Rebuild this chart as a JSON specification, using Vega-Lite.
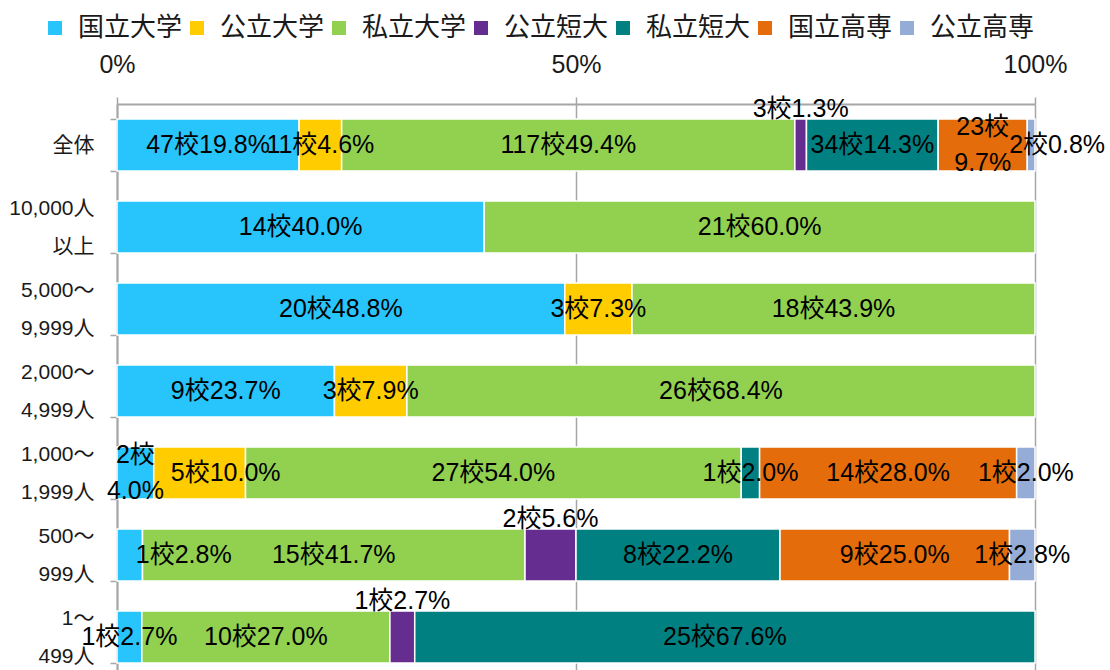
{
  "$schema": "https://vega.github.io/schema/vega-lite/v6.json",
  "autosize": {"type": "none"},
  "padding": {"left": 117, "top": 104, "right": 75, "bottom": 0},
  "width": 918,
  "height": 574,
  "background": "white",
  "config": {
    "font": "Liberation Sans, Noto Sans CJK JP",
    "view": {"stroke": null}
  },
  "data": {
    "values": [
      {"size": "全体", "type": "国立大学", "n": 47, "pct": 19.8},
      {"size": "全体", "type": "公立大学", "n": 11, "pct": 4.6},
      {"size": "全体", "type": "私立大学", "n": 117, "pct": 49.4},
      {"size": "全体", "type": "公立短大", "n": 3, "pct": 1.3},
      {"size": "全体", "type": "私立短大", "n": 34, "pct": 14.3},
      {"size": "全体", "type": "国立高専", "n": 23, "pct": 9.7},
      {"size": "全体", "type": "公立高専", "n": 2, "pct": 0.8},
      {"size": "10,000人|以上", "type": "国立大学", "n": 14, "pct": 40.0},
      {"size": "10,000人|以上", "type": "私立大学", "n": 21, "pct": 60.0},
      {"size": "5,000～|9,999人", "type": "国立大学", "n": 20, "pct": 48.8},
      {"size": "5,000～|9,999人", "type": "公立大学", "n": 3, "pct": 7.3},
      {"size": "5,000～|9,999人", "type": "私立大学", "n": 18, "pct": 43.9},
      {"size": "2,000～|4,999人", "type": "国立大学", "n": 9, "pct": 23.7},
      {"size": "2,000～|4,999人", "type": "公立大学", "n": 3, "pct": 7.9},
      {"size": "2,000～|4,999人", "type": "私立大学", "n": 26, "pct": 68.4},
      {"size": "1,000～|1,999人", "type": "国立大学", "n": 2, "pct": 4.0},
      {"size": "1,000～|1,999人", "type": "公立大学", "n": 5, "pct": 10.0},
      {"size": "1,000～|1,999人", "type": "私立大学", "n": 27, "pct": 54.0},
      {"size": "1,000～|1,999人", "type": "私立短大", "n": 1, "pct": 2.0},
      {"size": "1,000～|1,999人", "type": "国立高専", "n": 14, "pct": 28.0},
      {"size": "1,000～|1,999人", "type": "公立高専", "n": 1, "pct": 2.0},
      {"size": "500～|999人", "type": "国立大学", "n": 1, "pct": 2.8},
      {"size": "500～|999人", "type": "私立大学", "n": 15, "pct": 41.7},
      {"size": "500～|999人", "type": "公立短大", "n": 2, "pct": 5.6},
      {"size": "500～|999人", "type": "私立短大", "n": 8, "pct": 22.2},
      {"size": "500～|999人", "type": "国立高専", "n": 9, "pct": 25.0},
      {"size": "500～|999人", "type": "公立高専", "n": 1, "pct": 2.8},
      {"size": "1～|499人", "type": "国立大学", "n": 1, "pct": 2.7},
      {"size": "1～|499人", "type": "私立大学", "n": 10, "pct": 27.0},
      {"size": "1～|499人", "type": "公立短大", "n": 1, "pct": 2.7},
      {"size": "1～|499人", "type": "私立短大", "n": 25, "pct": 67.6}
    ]
  },
  "transform": [
    {"calculate": "indexof(['国立大学','公立大学','私立大学','公立短大','私立短大','国立高専','公立高専'], datum.type)", "as": "ord"},
    {"stack": "n", "groupby": ["size"], "sort": [{"field": "ord", "order": "ascending"}], "offset": "normalize", "as": ["x0", "x1"]},
    {"calculate": "(datum.x0 + datum.x1) / 2", "as": "mid"},
    {"calculate": "datum.n + '校' + format(datum.pct, '.1f') + '%'", "as": "label"},
    {"calculate": "datum.n + '校|' + format(datum.pct, '.1f') + '%'", "as": "label2"},
    {"calculate": "datum.size + '/' + datum.type", "as": "key"}
  ],
  "encoding": {
    "y": {
      "field": "size",
      "type": "nominal",
      "sort": ["全体", "10,000人|以上", "5,000～|9,999人", "2,000～|4,999人", "1,000～|1,999人", "500～|999人", "1～|499人"],
      "scale": {"paddingInner": 0.366, "paddingOuter": 0.183},
      "axis": {
        "title": null,
        "orient": "left",
        "labelExpr": "split(datum.label, '|')",
        "labelFontSize": 21,
        "labelLineHeight": 38,
        "labelOffset": {"condition": {"test": "datum.value === '全体'", "value": 0}, "value": -19},
        "labelColor": "#1a1a1a",
        "labelPadding": 16,
        "tickBand": "extent",
        "tickSize": 7,
        "tickColor": "#A6A6A6",
        "tickWidth": 1.5,
        "domainColor": "#A6A6A6",
        "domainWidth": 2,
        "grid": false
      }
    }
  },
  "layer": [
    {
      "mark": {"type": "bar", "stroke": "white", "strokeWidth": 1.5},
      "encoding": {
        "x": {
          "field": "x0",
          "type": "quantitative",
          "scale": {"domain": [0, 1], "nice": false},
          "axis": {
            "title": null,
            "orient": "top",
            "values": [0, 0.5, 1],
            "format": ".0%",
            "labelFontSize": 25,
            "labelColor": "#1a1a1a",
            "labelPadding": 20,
            "labelFlush": false,
            "grid": true,
            "gridColor": "#A6A6A6",
            "gridWidth": 1.5,
            "tickSize": 7,
            "tickColor": "#A6A6A6",
            "tickWidth": 1.5,
            "domainColor": "#A6A6A6",
            "domainWidth": 2
          }
        },
        "x2": {"field": "x1"},
        "color": {
          "field": "type",
          "type": "nominal",
          "scale": {
            "domain": ["国立大学", "公立大学", "私立大学", "公立短大", "私立短大", "国立高専", "公立高専"],
            "range": ["#27C5FB", "#FFCC00", "#92D050", "#662D91", "#008080", "#E46C0A", "#95ACD6"]
          },
          "legend": {
            "title": null,
            "orient": "none",
            "direction": "horizontal",
            "columns": 7,
            "padding": 0,
            "legendX": -75,
            "legendY": -89,
            "symbolType": "square",
            "symbolSize": 196,
            "symbolStrokeWidth": 0,
            "labelFontSize": 26,
            "labelColor": "#1a1a1a",
            "labelOffset": 10,
            "columnPadding": 1
          }
        }
      }
    },
    {
      "transform": [{"filter": "indexof(['全体/公立短大','500～|999人/公立短大','1～|499人/公立短大','全体/国立高専','1,000～|1,999人/国立大学','全体/公立高専','1,000～|1,999人/公立大学','500～|999人/国立大学'], datum.key) < 0"}],
      "mark": {"type": "text", "fontSize": 25, "color": "black"},
      "encoding": {
        "x": {"field": "mid", "type": "quantitative"},
        "text": {"field": "label"}
      }
    },
    {
      "transform": [{"filter": "indexof(['全体/公立短大','500～|999人/公立短大','1～|499人/公立短大'], datum.key) >= 0"}],
      "mark": {"type": "text", "fontSize": 25, "color": "black", "dy": -36},
      "encoding": {
        "x": {"field": "mid", "type": "quantitative"},
        "text": {"field": "label"}
      }
    },
    {
      "transform": [{"filter": "indexof(['全体/国立高専','1,000～|1,999人/国立大学'], datum.key) >= 0"}],
      "mark": {"type": "text", "fontSize": 25, "color": "black", "lineBreak": "|", "lineHeight": 36, "dy": -18},
      "encoding": {
        "x": {"field": "mid", "type": "quantitative"},
        "text": {"field": "label2"}
      }
    },
    {
      "transform": [{"filter": "indexof(['全体/公立高専','1,000～|1,999人/公立大学'], datum.key) >= 0"}],
      "mark": {"type": "text", "fontSize": 25, "color": "black", "dx": 26},
      "encoding": {
        "x": {"field": "mid", "type": "quantitative"},
        "text": {"field": "label"}
      }
    },
    {
      "transform": [{"filter": "datum.key == '500～|999人/国立大学'"}],
      "mark": {"type": "text", "fontSize": 25, "color": "black", "dx": 54},
      "encoding": {
        "x": {"field": "mid", "type": "quantitative"},
        "text": {"field": "label"}
      }
    }
  ]
}
